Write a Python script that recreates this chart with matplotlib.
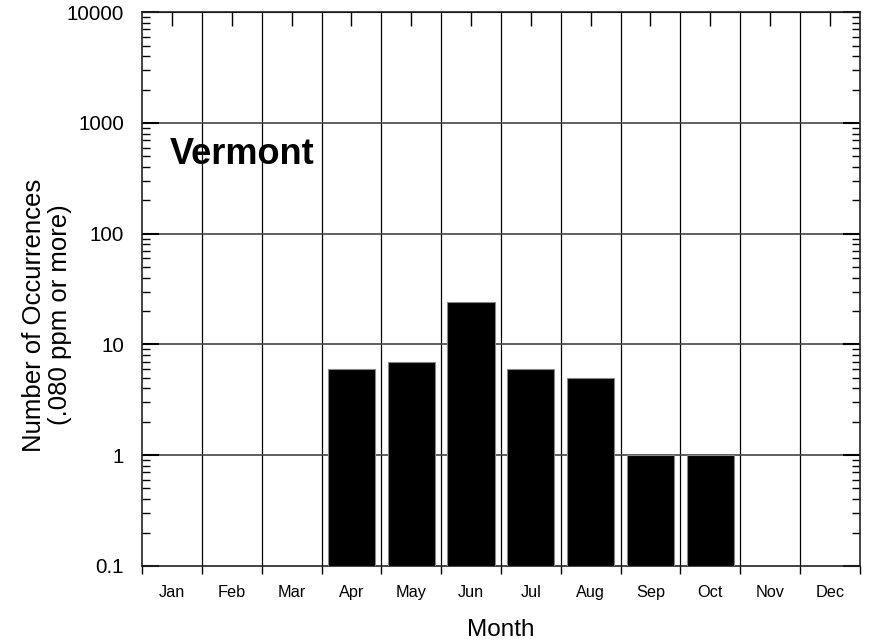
import matplotlib
matplotlib.use("Agg")
import matplotlib.pyplot as plt
import numpy as np
from matplotlib.ticker import FixedLocator, LogLocator, NullFormatter

plt.rcParams['font.family'] = ['Liberation Sans', 'DejaVu Sans']

months = ["Jan", "Feb", "Mar", "Apr", "May", "Jun", "Jul", "Aug", "Sep", "Oct", "Nov", "Dec"]
counts = [0, 0, 0, 6, 7, 24, 6, 5, 1, 1, 0, 0]
ytick_vals = [0.1, 1, 10, 100, 1000, 10000]
ytick_labels = ["0.1", "1", "10", "100", "1000", "10000"]

fig = plt.figure(figsize=(8.72, 6.43), dpi=100)
ax = fig.add_axes([0.163, 0.120, 0.823, 0.861])
ax.set_yscale('log')
ax.set_ylim(0.1, 10000)
ax.set_xlim(0, 12)

x = np.arange(len(months)) + 0.5
for xi, c in zip(x, counts):
    if c > 0:
        ax.bar(xi, c - 0.1, bottom=0.1, width=0.79, color='black',
               edgecolor='#888888', linewidth=0.8, zorder=3)

# vertical grid at month boundaries
for b in range(1, 12):
    ax.axvline(b, color='black', linewidth=0.9, zorder=1)
# horizontal grid at decades
for v in ytick_vals[1:-1]:
    ax.axhline(v, color='#444444', linewidth=1.2, zorder=1)

# bottom: ticks at boundaries, labels at centers
ax.xaxis.set_major_locator(FixedLocator(range(0, 13)))
ax.xaxis.set_major_formatter(NullFormatter())
ax.xaxis.set_minor_locator(FixedLocator(x))
ax.set_xticklabels(months, minor=True)
ax.tick_params(axis='x', which='major', direction='out', length=6, width=1, top=False, bottom=True)
ax.tick_params(axis='x', which='minor', length=0, pad=13.5, labelsize=11.7)

# top ticks at month centers
axt = ax.secondary_xaxis('top')
axt.set_xticks(x)
axt.set_xticklabels([])
axt.tick_params(direction='in', length=10, width=1)

ax.yaxis.set_major_locator(FixedLocator(ytick_vals))
ax.set_yticklabels(ytick_labels)
ax.yaxis.set_minor_locator(LogLocator(base=10, subs=np.arange(2, 10)))
ax.yaxis.set_minor_formatter(NullFormatter())
ax.tick_params(axis='y', which='major', direction='in', length=12, width=1.5,
               left=True, right=True, labelsize=14.8, pad=13)
ax.tick_params(axis='y', which='minor', direction='in', length=6, width=1,
               left=True, right=True)

for s in ax.spines.values():
    s.set_linewidth(1.2)
    s.set_color('#222222')

ax.set_xlabel("Month", fontsize=17.5, labelpad=14)
fig.text(47 / 872, 1 - 315 / 643, "Number of Occurrences\n(.080 ppm or more)",
         fontsize=18.5, rotation=90, ha='center', va='center', linespacing=1.1)

ax.text(0.47, 520, "Vermont", fontsize=26, fontweight='bold', ha='left', va='center', zorder=5)

fig.savefig("out.png", dpi=100)
